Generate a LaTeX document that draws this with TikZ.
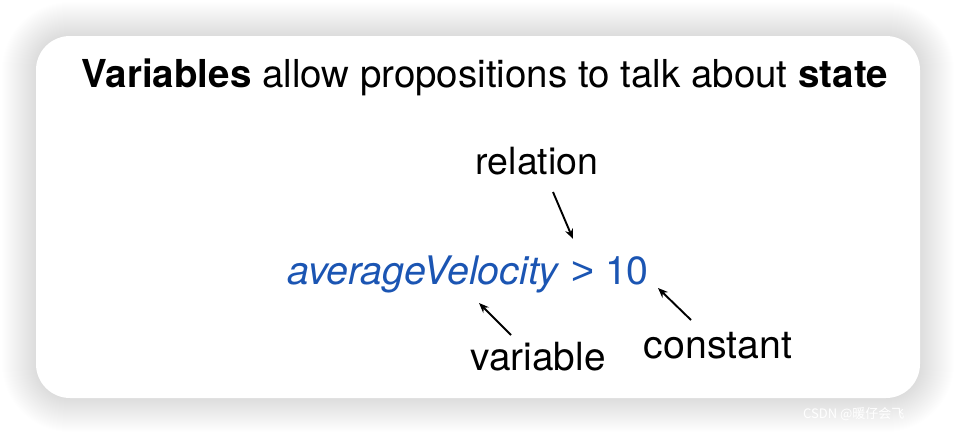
\documentclass[tikz,border=0pt]{standalone}
\usepackage{fontspec}
\setmainfont{TeX Gyre Heros}
\newfontfamily\cjk{Noto Sans CJK SC}
\newfontfamily\arialfont{Liberation Sans}
\usetikzlibrary{arrows.meta}
\definecolor{varblue}{HTML}{1B55B3}
\tikzset{
  lbl/.style={font=\fontsize{38.5}{42}\selectfont, text=black, inner sep=0pt},
  pointer/.style={draw=black, line width=1.9pt, -{Stealth[length=10pt,width=8pt]}},
  shadowlayer/.style={fill=black, opacity=0.0052},
}
\begin{document}
\begin{tikzpicture}[x=1pt,y=-1pt]
\useasboundingbox (0,0) rectangle (956,434);
\fill[white] (0,0) rectangle (956,434);
\foreach \i [evaluate=\i as \r using 34+\i] in {1,...,34}{
  \fill[shadowlayer, rounded corners=\r pt] (36-\i,36-\i) rectangle (920+\i,398+\i);
}
\node[name=card, draw=none, fill=white, rounded corners=34pt, minimum width=884pt, minimum height=362pt, inner sep=0pt]
  at (478,217) {};
\node[lbl, anchor=base] (title) at (485,87) {\textbf{Variables} allow propositions to talk about \textbf{state}};
\node[lbl, anchor=base, font=\fontsize{37.5}{42}\selectfont] (rel) at (537,174) {relation};
\node[lbl, anchor=base, text=varblue, font=\fontsize{39.3}{42}\selectfont] (expr) at (468,284) {\textit{averageVelocity} {\arialfont >} 10};
\coordinate (gt) at (573,239);
\coordinate (var) at (479,303);
\coordinate (ten) at (658,288);
\node[lbl, anchor=base, font=\fontsize{38.8}{42}\selectfont] (variable) at (538,370) {variable};
\node[lbl, anchor=base, font=\fontsize{39.3}{42}\selectfont] (constant) at (718,358) {constant};
\coordinate (relend) at (553,192);
\coordinate (varend) at (511,335);
\coordinate (conend) at (691,320);
\draw[pointer] (relend) -- (gt);
\draw[pointer] (varend) -- (var);
\draw[pointer] (conend) -- (ten);
\node[font=\cjk\fontsize{13}{15}\selectfont, text=white, anchor=base west, inner sep=0pt] (wm) at (803,418) {CSDN @暖仔会飞};
\end{tikzpicture}
\end{document}
